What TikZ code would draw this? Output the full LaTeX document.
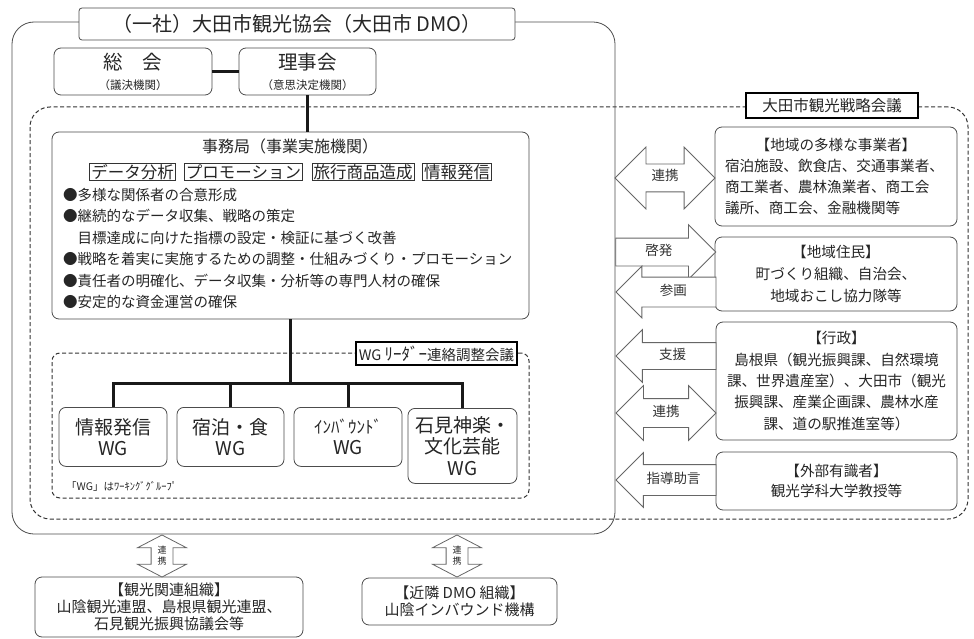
\documentclass[tikz,border=0pt]{standalone}
\usepackage{fontspec}
\setmainfont{Noto Sans CJK JP}
\usetikzlibrary{shapes.arrows}

\tikzset{
  frame/.style={draw=black!70, line width=0.8pt, rounded corners=7pt, fill=white, align=center, inner sep=0pt},
  dashframe/.style={draw=black!80, line width=1pt, dash pattern=on 4pt off 2.5pt},
  tagbox/.style={draw=black, line width=1.3pt, fill=white, inner sep=0pt},
  itembox/.style={draw=black!80, line width=0.8pt, inner xsep=1.5pt, inner ysep=1pt, font=\fontsize{16.5}{18}\selectfont},
  link/.style={line width=3pt, draw=black!90},
  blockarrow/.style={draw=black!60, fill=white, line width=0.8pt, inner xsep=0pt, inner ysep=7.5pt,
    text height=9pt, text depth=3pt, minimum height=100pt, font=\fontsize{13.5}{14}\selectfont, text=black!80},
}

\begin{document}
\begin{tikzpicture}[x=1pt, y=-1pt, every node/.style={text=black!85}]
    \useasboundingbox (0,0) rectangle (974,639);

    % Define sizes
    \def\rowgap{21.4}
    \def\rtw{222pt}

    % Draw the strategy council and the DMO frame
    \node[dashframe, rounded corners=20pt, minimum width=938pt, minimum height=412pt] (council) at (499,313) {};
    \node[draw=black!70, line width=0.8pt, rounded corners=22pt, minimum width=603pt, minimum height=512pt] (dmo) at (313.5,278) {};
    \node[frame, rounded corners=3pt, minimum width=436pt, minimum height=32pt, font=\fontsize{20}{22}\selectfont] (title) at (297,24) {（一社）大田市観光協会（大田市 DMO）};

    % General meeting and board
    \node[frame, minimum width=158pt, minimum height=47pt, font=\fontsize{11.5}{20}\selectfont] (sokai) at (133,71.5)
      {{\fontsize{19.5}{21}\selectfont 総　会}\\（議決機関）};
    \node[frame, minimum width=137pt, minimum height=47pt, font=\fontsize{11.5}{20}\selectfont] (rijikai) at (307.5,71.5)
      {{\fontsize{19.5}{21}\selectfont 理事会}\\（意思決定機関）};
    \draw[link] (sokai) -- (rijikai);

    % Secretariat
    \node[frame, minimum width=477pt, minimum height=187pt] (office) at (290.5,225.5) {};
    \draw[link] (rijikai.south) -- (rijikai.south |- office.north);
    \node[font=\fontsize{16}{18}\selectfont] (officehead) at (290,146) {事務局（事業実施機関）};
    \node[itembox] (analysis) at (132.5,172) {データ分析};
    \node[itembox] (promotion) at (243.5,172) {プロモーション};
    \node[itembox] (product) at (363,172) {旅行商品造成};
    \node[itembox] (publicity) at (457,172) {情報発信};
    \foreach \txt [count=\i] in {●多様な関係者の合意形成, ●継続的なデータ収集、戦略の策定,
        　目標達成に向けた指標の設定・検証に基づく改善, ●戦略を着実に実施するための調整・仕組みづくり・プロモーション,
        ●責任者の明確化、データ収集・分析等の専門人材の確保, ●安定的な資金運営の確保} {
      \node[anchor=west, inner sep=0pt, font=\fontsize{14.5}{16}\selectfont] (task\i) at (63,{195+(\i-1)*\rowgap}) {\txt};
    }

    % Working groups
    \node[dashframe, rounded corners=8pt, minimum width=477pt, minimum height=145pt] (wgframe) at (290.5,425.5) {};
    \node[tagbox, minimum width=161pt, minimum height=23pt, font=\fontsize{14.5}{16}\selectfont] (wglabel) at (436.5,353.5)
      {WG {\fontsize{17}{16}\selectfont ﾘｰﾀﾞｰ}連絡調整会議};
    \coordinate (hub) at (office.south |- 0,383);
    \draw[link] (office.south) -- (hub);

    \node[frame, anchor=north, minimum width=108pt, minimum height=59pt, font=\fontsize{19}{20.5}\selectfont] (wginfo) at (113,407) {情報発信\\WG};
    \node[frame, anchor=north, minimum width=107pt, minimum height=59pt, font=\fontsize{19}{20.5}\selectfont] (wgstay) at (230.5,407) {宿泊・食\\WG};
    \node[frame, anchor=north, minimum width=108pt, minimum height=59pt, font=\fontsize{19}{20.5}\selectfont] (wginbound) at (348,407)
      {{\fontsize{17}{16}\selectfont ｲﾝﾊﾞｳﾝﾄﾞ}\\WG};
    \node[frame, anchor=north, minimum width=109pt, minimum height=75pt, font=\fontsize{19}{21.5}\selectfont] (wgkagura) at (462.5,408) {石見神楽・\\文化芸能\\WG};

    \draw[link] (wginfo.north) |- (wgkagura.north |- hub) -- (wgkagura.north);
    \foreach \wg in {wgstay, wginbound} {
      \draw[link] (\wg.north) -- (\wg.north |- hub);
    }
    \node[anchor=west, inner sep=0pt, font=\fontsize{10.5}{12}\selectfont] (wgnote) at (66,486) {「WG」はﾜｰｷﾝｸﾞｸﾞﾙｰﾌﾟ};

    % Council label
    \node[tagbox, minimum width=172pt, minimum height=25pt, font=\fontsize{15.5}{17}\selectfont] (councillabel) at (832,105.5) {大田市観光戦略会議};

    % Partners on the right
    \node[frame, minimum width=242pt, minimum height=99pt, text width=\rtw, align=left, font=\fontsize{14.6}{21.3}\selectfont] (business) at (836,176.5)
      {\makebox[\rtw][c]{【地域の多様な事業者】}\\宿泊施設、飲食店、交通事業者、\\商工業者、農林漁業者、商工会\\議所、商工会、金融機関等};
    \node[frame, minimum width=242pt, minimum height=74pt, font=\fontsize{14.6}{22}\selectfont] (residents) at (836,274)
      {【地域住民】\\町づくり組織、自治会、\\地域おこし協力隊等};
    \node[frame, minimum width=241pt, minimum height=118pt, font=\fontsize{14.6}{21.3}\selectfont] (government) at (836.5,381)
      {【行政】\\島根県（観光振興課、自然環境\\課、世界遺産室）、大田市（観光\\振興課、産業企画課、農林水産\\課、道の駅推進室等）};
    \node[frame, minimum width=241pt, minimum height=58pt, font=\fontsize{14.6}{20}\selectfont] (experts) at (836.5,481)
      {【外部有識者】\\観光学科大学教授等};

    % Block arrows
    \node[blockarrow, double arrow, double arrow head extend=17pt] (linkbiz) at (665,178) {連携};
    \node[blockarrow, single arrow, single arrow head extend=13.5pt, anchor=tail] (enlighten) at (dmo.east |- 0,252) {啓発};
    \node[blockarrow, single arrow, shape border rotate=180, inner ysep=8.5pt, single arrow head extend=11pt, anchor=tip] (participate) at (dmo.east |- 0,292) {参画};
    \node[blockarrow, single arrow, shape border rotate=180, inner ysep=7pt, single arrow head extend=13pt, anchor=tip] (support) at (dmo.east |- 0,356) {支援};
    \node[blockarrow, double arrow, inner ysep=8pt, double arrow head extend=13pt] (linkgov) at (666,413) {連携};
    \node[blockarrow, single arrow, shape border rotate=180, inner ysep=9pt, single arrow head extend=12pt, anchor=tip] (advice) at (dmo.east |- 0,480) {指導助言};

    % Organisations below
    \node[frame, minimum width=268pt, minimum height=60pt, font=\fontsize{15}{17}\selectfont] (tourismorg) at (169,607)
      {【観光関連組織】\\山陰観光連盟、島根県観光連盟、\\石見観光振興協議会等};
    \node[frame, minimum width=195pt, minimum height=47pt, font=\fontsize{15}{17}\selectfont] (nearbydmo) at (459.5,601.5)
      {【近隣 DMO 組織】\\山陰インバウンド機構};

    \foreach \name/\x in {linkorg/162, linkdmo/457} {
      \node[blockarrow, double arrow, rotate=90, minimum height=42pt, inner ysep=10.5pt, text height=0pt, text depth=0pt,
        double arrow head extend=13.5pt, double arrow tip angle=125] (\name) at (\x,556) {};
      \node[align=center, inner sep=0pt, font=\fontsize{9}{11}\selectfont] (\name text) at (\x,556) {連\\携};
    }
  \end{tikzpicture}
\end{document}
